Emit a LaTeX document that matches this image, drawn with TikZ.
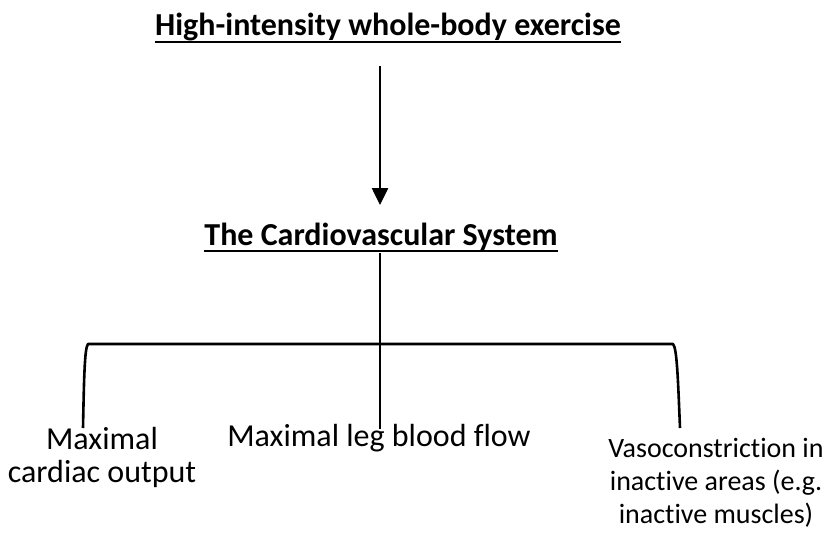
\documentclass[tikz,border=0pt]{standalone}
\usepackage{fontspec}
\setmainfont{Carlito}[Ligatures=NoCommon]
\usetikzlibrary{arrows.meta}
\begin{document}
\begin{tikzpicture}[x=1pt,y=-1pt,
  lbl/.style={font=\fontsize{32}{33}\selectfont, align=center, inner sep=0pt},
  lblr/.style={font=\fontsize{28}{33}\selectfont, align=center, inner sep=0pt},
  ttl/.style={font=\fontsize{32}{33}\selectfont\bfseries, inner sep=0pt},
  uline/.style={line width=2pt},
  conn/.style={line width=2.6pt},
  arr/.style={conn, -{Triangle[width=16pt,length=17pt]}}]
\useasboundingbox[fill=white] (0,0) rectangle (827,551);
% titles
\node[ttl, anchor=base] (hi) at (388,36) {High-intensity whole-body exercise};
\draw[uline] ([yshift=-6pt]hi.base west) -- ([yshift=-6pt]hi.base east);
\node[ttl, anchor=base] (cv) at (381,245) {The Cardiovascular System};
\draw[uline] ([yshift=-6pt]cv.base west) -- ([yshift=-6pt]cv.base east);
% arrow
\coordinate (a0) at (380,66);
\coordinate (a1) at (380,205);
\draw[arr] (a0) -- (a1);
% stem and bracket
\coordinate (m0) at (380,253);
\coordinate (m1) at (380,429);
\coordinate (bl) at (83,428);
\coordinate (blc) at (88,344);
\coordinate (brc) at (673,344);
\coordinate (br) at (680,428);
\draw[conn] (m0) -- (m1);
\draw[conn, line join=round] (bl) .. controls (84,380) and (84.5,348) .. (blc) -- (brc) .. controls (677,348) and (678,380) .. (br);
% labels
\node[lbl] (l1) at (102,457) {Maximal\\cardiac output};
\node[lbl] (l2) at (379,438) {Maximal leg blood flow};
\node[lblr] (l3) at (716,483) {Vasoconstriction in\\inactive areas (e.g.\\inactive muscles)};
\end{tikzpicture}
\end{document}
